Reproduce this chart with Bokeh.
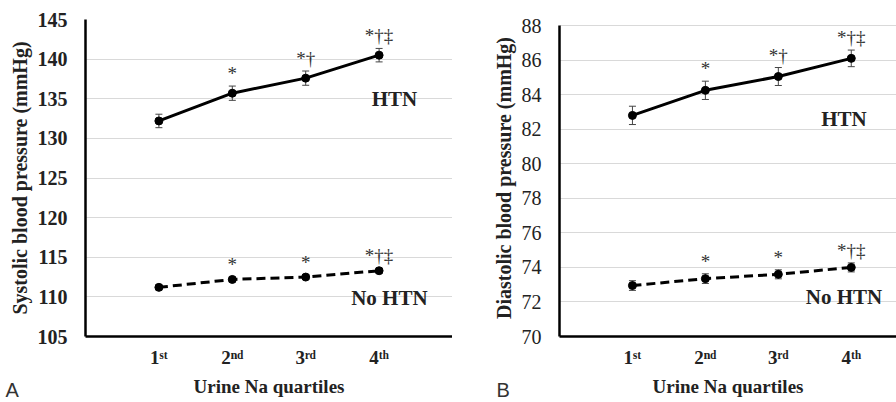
from bokeh.plotting import figure
from bokeh.models import (ColumnDataSource, Range1d, FixedTicker, Whisker, TeeHead,
                          Label, Title)
from bokeh.layouts import row
from bokeh.core.properties import value
from bokeh.embed import file_html
from bokeh.resources import INLINE

# ---------------- data ----------------
quartiles = [1, 2, 3, 4]
quartile_labels = ["1ˢᵗ", "2ⁿᵈ", "3ʳᵈ", "4ᵗʰ"]

sbp_htn = [132.2, 135.7, 137.6, 140.5]
sbp_htn_err = [0.85, 0.9, 0.9, 0.85]
sbp_nohtn = [111.2, 112.2, 112.5, 113.3]
sbp_nohtn_err = [0.3, 0.3, 0.3, 0.3]

dbp_htn = [82.8, 84.25, 85.05, 86.1]
dbp_htn_err = [0.53, 0.53, 0.52, 0.48]
dbp_nohtn = [72.95, 73.35, 73.6, 74.0]
dbp_nohtn_err = [0.28, 0.28, 0.26, 0.26]

htn_marks = ["", "*", "*†", "*†‡"]
nohtn_marks = ["", "*", "*", "*†‡"]

sbp_ticks = [105, 110, 115, 120, 125, 130, 135, 140, 145]
dbp_ticks = [70, 72, 74, 76, 78, 80, 82, 84, 86, 88]

SERIF = "Liberation Serif"
TXT = "#222222"


def make_panel(htn, htn_err, nohtn, nohtn_err, ticks, y_top, ylabel, bold_ticks,
               width, x_end, border_left, panel_letter, letter_offset,
               htn_label_x, htn_label_y, nohtn_label_x, nohtn_label_y):
    p = figure(width=width, height=402, output_backend="svg", toolbar_location=None,
               x_range=Range1d(0, x_end), y_range=Range1d(ticks[0], y_top),
               min_border_left=border_left, min_border_right=0,
               min_border_top=19, min_border_bottom=66)
    p.outline_line_color = None
    p.background_fill_color = "white"
    p.border_fill_color = "white"

    # grid
    p.xgrid.grid_line_color = None
    p.ygrid.grid_line_color = "#d9d9d9"
    p.ygrid.grid_line_width = 1

    # axes
    p.xaxis.ticker = FixedTicker(ticks=quartiles)
    p.xaxis.major_label_overrides = {q: l for q, l in zip(quartiles, quartile_labels)}
    p.yaxis.ticker = FixedTicker(ticks=ticks)
    p.yaxis.bounds = (ticks[0], ticks[-1])
    for ax in (p.xaxis[0], p.yaxis[0]):
        ax.axis_line_color = "black"
        ax.axis_line_width = 2.5
        ax.major_tick_line_color = None
        ax.minor_tick_line_color = None
        ax.major_label_text_font = SERIF
        ax.major_label_text_color = TXT
        ax.axis_label_text_font = SERIF
        ax.axis_label_text_font_style = "bold"
        ax.axis_label_text_color = TXT
    p.xaxis.major_label_text_font_size = "19px"
    p.xaxis.major_label_text_font_style = "bold"
    p.xaxis.major_label_standoff = 4
    p.xaxis.axis_label = "Urine Na quartiles"
    p.xaxis.axis_label_text_font_size = "19px"
    p.xaxis.axis_label_standoff = 5
    p.yaxis.major_label_text_font_size = "20px"
    p.yaxis.major_label_text_font_style = "bold" if bold_ticks else "normal"
    p.yaxis.major_label_standoff = 12
    p.yaxis.axis_label = ylabel
    p.yaxis.axis_label_text_font_size = "20px"
    p.yaxis.axis_label_standoff = 4

    # series
    src_h = ColumnDataSource(dict(x=quartiles, y=htn,
                                  upper=[v + e for v, e in zip(htn, htn_err)],
                                  lower=[v - e for v, e in zip(htn, htn_err)],
                                  marks=htn_marks))
    src_n = ColumnDataSource(dict(x=quartiles, y=nohtn,
                                  upper=[v + e for v, e in zip(nohtn, nohtn_err)],
                                  lower=[v - e for v, e in zip(nohtn, nohtn_err)],
                                  marks=nohtn_marks))

    for src, dash in ((src_h, "solid"), (src_n, "9 5")):
        w = Whisker(base="x", upper="upper", lower="lower", source=src,
                    line_color="#444444", line_width=1,
                    upper_head=TeeHead(size=7, line_color="#444444", line_width=1),
                    lower_head=TeeHead(size=7, line_color="#444444", line_width=1))
        p.add_layout(w)
        p.line("x", "y", source=src, line_color="black", line_width=3, line_dash=dash)
        p.scatter("x", "y", source=src, size=8, color="black")
        p.text("x", "upper", text="marks", source=src, text_align="center",
               text_baseline="bottom", y_offset=-2,
               text_font=value(SERIF), text_font_size="19px", text_color="#333333")

    p.add_layout(Label(x=htn_label_x, y=htn_label_y, text="HTN", text_align="center",
                       text_baseline="middle", text_font=SERIF, text_font_style="bold",
                       text_font_size="21px", text_color=TXT))
    p.add_layout(Label(x=nohtn_label_x, y=nohtn_label_y, text="No HTN", text_align="center",
                       text_baseline="middle", text_font=SERIF, text_font_style="bold",
                       text_font_size="21px", text_color=TXT))
    p.add_layout(Title(text=panel_letter, align="left", vertical_align="top",
                       offset=letter_offset, standoff=-42,
                       text_font="Liberation Sans", text_font_style="normal",
                       text_font_size="20px", text_color="#333333"), "below")
    return p


pA = make_panel(sbp_htn, sbp_htn_err, sbp_nohtn, sbp_nohtn_err, sbp_ticks, 145,
                "Systolic blood pressure (mmHg)", True, 452, 5.0, 85, "A",
                -80, 4.21, 135.0, 4.14, 109.8)
pB = make_panel(dbp_htn, dbp_htn_err, dbp_nohtn, dbp_nohtn_err, dbp_ticks, 88.35,
                "Diastolic blood pressure (mmHg)", False, 444, 4.62, 107, "B",
                -63, 3.9, 82.6, 3.9, 72.3)

layout = row(pA, pB)
open("out.html", "w").write(file_html(layout, INLINE))
